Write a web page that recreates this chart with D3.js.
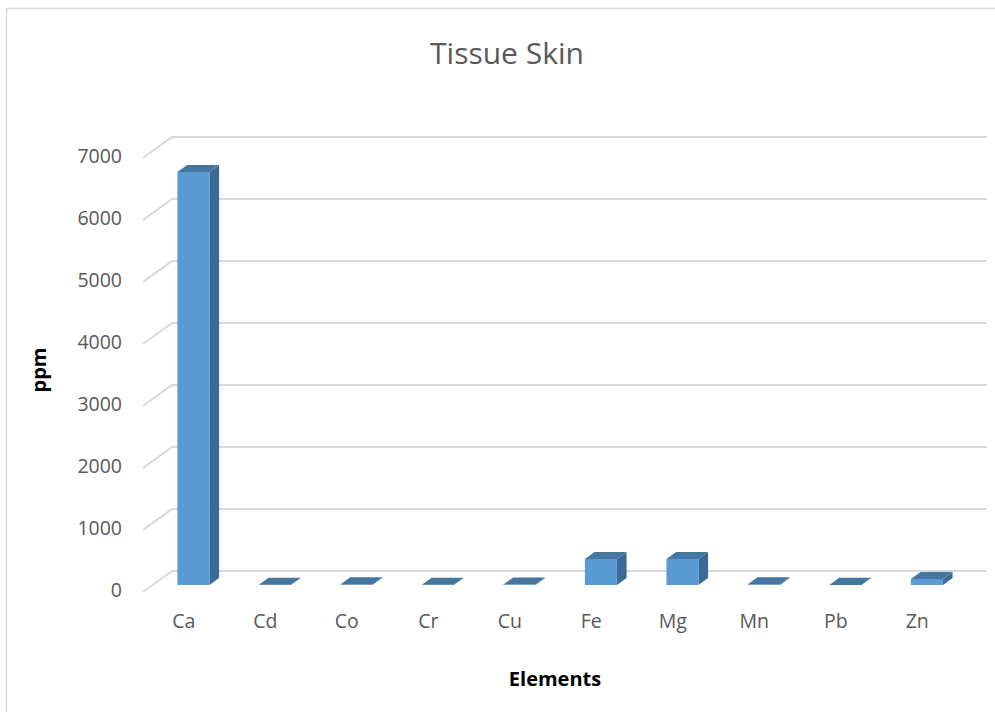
<!DOCTYPE html>
<html>
<head>
<meta charset="utf-8">
<script src="https://cdn.jsdelivr.net/npm/d3@7"></script>
<style>
  body { margin: 0; background: #fff; }
  svg { display: block; }
</style>
</head>
<body>
<svg id="chart" width="995" height="712"></svg>
<script>
const categories = ["Ca", "Cd", "Co", "Cr", "Cu", "Fe", "Mg", "Mn", "Pb", "Zn"];
const values = [6660, 3, 10, 3, 8, 420, 420, 12, 2, 95];
const yTicks = [0, 1000, 2000, 3000, 4000, 5000, 6000, 7000];
const titleText = "Tissue Skin";
const xTitle = "Elements";
const yTitle = "ppm";

const svg = d3.select("#chart");
const W = 995, H = 712;

// chart border
svg.append("rect").attr("x", 6.5).attr("y", 8.5).attr("width", W).attr("height", H)
  .attr("fill", "#fff").attr("stroke", "#D9D9D9").attr("stroke-width", 1.5);

// 3D geometry
const DX = 29, DY = -21;          // depth vector of the floor
const x0 = 143, x1 = 958;         // front plane horizontal extent
const yBase = 592, yTop = 158;    // front plane vertical extent (0 .. 7000)

const x = d3.scaleBand().domain(categories).range([x0, x1]).paddingInner(0).paddingOuter(0);
const y = d3.scaleLinear().domain([0, 7000]).range([yBase, yTop]);

// gridlines (slanted left part + horizontal back part)
const grid = svg.append("g");
yTicks.forEach(t => {
  const yf = y(t);
  grid.append("path")
    .attr("d", `M${x0},${yf} L${x0 + DX},${yf + DY} L${x1 + DX},${yf + DY}`)
    .attr("fill", "none").attr("stroke", "#D9D9D9").attr("stroke-width", 2);
});

// y axis labels
const yAxis = d3.axisLeft(y).tickValues(yTicks).tickSize(0).tickPadding(0).tickFormat(d3.format("d"));
const ga = svg.append("g").attr("transform", `translate(${122},${-2})`).call(yAxis);
ga.select(".domain").remove();
ga.selectAll("text").attr("fill", "#595959").style("font-family", "'Open Sans', sans-serif").style("font-size", "19.5px");

// x axis labels
const xAxis = d3.axisBottom(x).tickSize(0).tickPadding(0);
const gx = svg.append("g").attr("transform", `translate(0,${614})`).call(xAxis);
gx.select(".domain").remove();
gx.selectAll("text").attr("fill", "#595959").style("font-family", "'Open Sans', sans-serif").style("font-size", "19.5px");

// bars
const bw = 32;
const fF = 0.333, fB = 0.667;
const bars = svg.append("g");
categories.forEach((c, i) => {
  const v = values[i];
  const xl = x(c) + (x.bandwidth() - bw) / 2;
  const xr = xl + bw;
  const yt = y(v), yb = y(0);
  const fx = fF * DX, fy = fF * DY, bx = fB * DX, by = fB * DY;
  // side face
  bars.append("path")
    .attr("d", `M${xr + fx},${yt + fy} L${xr + bx},${yt + by} L${xr + bx},${yb + by} L${xr + fx},${yb + fy} Z`)
    .attr("fill", "#3B6A96");
  // front face
  bars.append("path")
    .attr("d", `M${xl + fx},${yt + fy} L${xr + fx},${yt + fy} L${xr + fx},${yb + fy} L${xl + fx},${yb + fy} Z`)
    .attr("fill", "#5B9BD5");
  // top face
  bars.append("path")
    .attr("d", `M${xl + fx},${yt + fy} L${xr + fx},${yt + fy} L${xr + bx},${yt + by} L${xl + bx},${yt + by} Z`)
    .attr("fill", "#44769F");
});

// titles
svg.append("text").attr("x", 507).attr("y", 64).attr("text-anchor", "middle")
  .attr("fill", "#595959").style("font-family", "'Open Sans', sans-serif").style("font-size", "30px")
  .text(titleText);
svg.append("text").attr("x", 555).attr("y", 686).attr("text-anchor", "middle")
  .attr("fill", "#000").style("font-family", "'Open Sans', sans-serif").style("font-size", "20px").style("font-weight", "bold")
  .text(xTitle);
svg.append("text").attr("transform", "translate(46,370) rotate(-90)").attr("text-anchor", "middle")
  .attr("fill", "#000").style("font-family", "'Open Sans', sans-serif").style("font-size", "20px").style("font-weight", "bold")
  .text(yTitle);
</script>
</body>
</html>
